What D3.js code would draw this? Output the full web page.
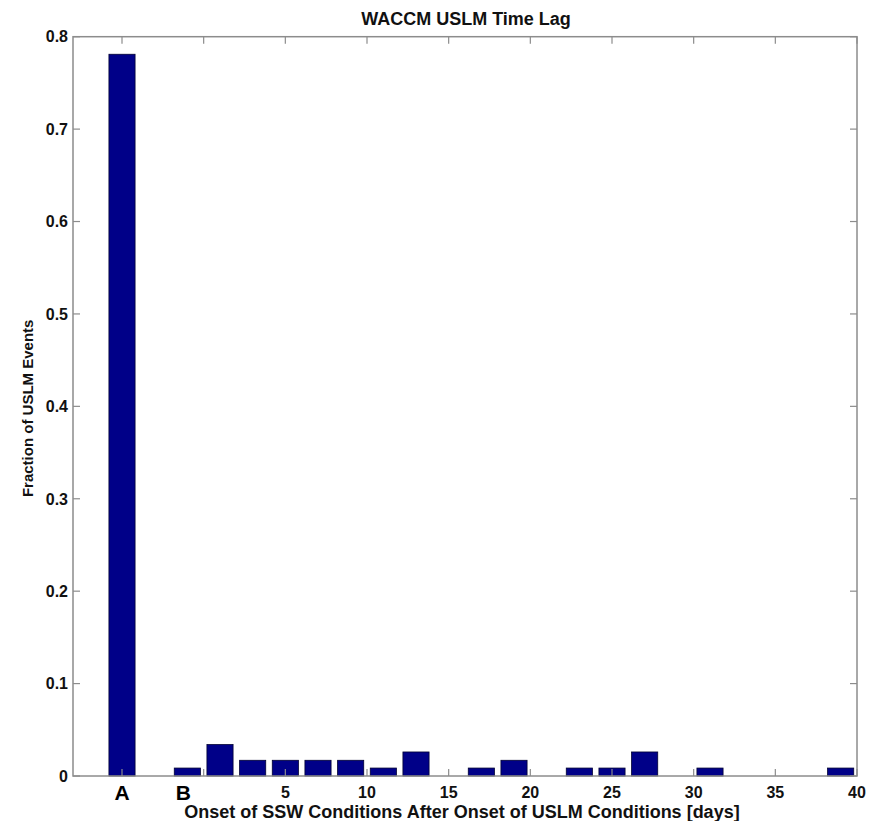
<!DOCTYPE html>
<html><head><meta charset="utf-8">
<script src="https://cdn.jsdelivr.net/npm/d3@7"></script>
<style>body{margin:0;background:#fff}svg{display:block}</style>
</head><body>
<script>
const binCenters = [-5, -1, 1, 3, 5, 7, 9, 11, 13, 17, 19, 23, 25, 27, 31, 39];
const fractions  = [0.781, 0.0086, 0.034, 0.017, 0.017, 0.017, 0.017, 0.0086, 0.026, 0.0086, 0.017, 0.0086, 0.0086, 0.026, 0.0086, 0.0086];
const xTickValues = [-5, 0, 5, 10, 15, 20, 25, 30, 35, 40];
const xTickLabels = ["", "", "5", "10", "15", "20", "25", "30", "35", "40"];
const yTickValues = [0, 0.1, 0.2, 0.3, 0.4, 0.5, 0.6, 0.7, 0.8];
const yTickLabels = ["0", "0.1", "0.2", "0.3", "0.4", "0.5", "0.6", "0.7", "0.8"];
const markerLabels = ["A", "B"];
const markerPositions = [-5, -1.25];
const titleText = "WACCM USLM Time Lag";
const xLabel = "Onset of SSW Conditions After Onset of USLM Conditions [days]";
const yLabel = "Fraction of USLM Events";
const binWidth = 2;

const W = 872, H = 821;
const L = 73, R = 857, T = 36.7, B = 776;
const svg = d3.select("body").append("svg").attr("width", W).attr("height", H);
const x = d3.scaleLinear().domain([-8, 40]).range([L, R]);
const y = d3.scaleLinear().domain([0, 0.8]).range([B, T]);
const font = "'Liberation Sans', Arial, sans-serif";
const gray = "#8c8c8c";

// bars
svg.append("g").selectAll("rect").data(binCenters.map((c, i) => ({c, v: fractions[i]})))
  .join("rect")
  .attr("x", d => x(d.c - 0.4 * binWidth))
  .attr("width", d => x(d.c + 0.4 * binWidth) - x(d.c - 0.4 * binWidth))
  .attr("y", d => y(d.v))
  .attr("height", d => y(0) - y(d.v))
  .attr("fill", "#000088").attr("stroke", "#000033").attr("stroke-width", 0.8);

// axes with inward ticks
const tl = 7;
const ax = svg.append("g").attr("stroke", gray).attr("stroke-width", 1.2);
xTickValues.forEach(v => {
  ax.append("line").attr("x1", x(v)).attr("x2", x(v)).attr("y1", B).attr("y2", B - tl);
  ax.append("line").attr("x1", x(v)).attr("x2", x(v)).attr("y1", T).attr("y2", T + tl);
});
yTickValues.forEach(v => {
  ax.append("line").attr("x1", L).attr("x2", L + tl).attr("y1", y(v)).attr("y2", y(v));
  ax.append("line").attr("x1", R).attr("x2", R - tl).attr("y1", y(v)).attr("y2", y(v));
});
svg.append("rect").attr("x", L).attr("y", T).attr("width", R - L).attr("height", B - T)
  .attr("fill", "none").attr("stroke", gray).attr("stroke-width", 1.5);

// y tick labels
svg.append("g").selectAll("text").data(yTickValues).join("text")
  .attr("x", L - 5).attr("y", d => y(d)).attr("dy", "0.36em")
  .attr("text-anchor", "end").attr("font-family", font).attr("font-weight", "bold")
  .attr("font-size", 16).attr("fill", "#111").text((d, i) => yTickLabels[i]);

// x tick labels
svg.append("g").selectAll("text").data(xTickValues).join("text")
  .attr("x", d => x(d)).attr("y", 798)
  .attr("text-anchor", "middle").attr("font-family", font).attr("font-weight", "bold")
  .attr("font-size", 16).attr("fill", "#111")
  .text((d, i) => xTickLabels[i]);

// A / B markers
svg.append("g").selectAll("text").data(markerPositions).join("text")
  .attr("x", d => x(d)).attr("y", 800)
  .attr("text-anchor", "middle").attr("font-family", font).attr("font-weight", "bold")
  .attr("font-size", 21).attr("fill", "#000")
  .text((d, i) => markerLabels[i]);

// title & labels
svg.append("text").attr("x", 466).attr("y", 25).attr("text-anchor", "middle")
  .attr("font-family", font).attr("font-weight", "bold").attr("font-size", 18).attr("fill", "#111")
  .text(titleText);
svg.append("text").attr("x", 462).attr("y", 818).attr("text-anchor", "middle")
  .attr("font-family", font).attr("font-weight", "bold").attr("font-size", 18).attr("fill", "#111")
  .text(xLabel);
svg.append("text").attr("transform", `translate(33,${(T + B) / 2 + 2}) rotate(-90)`)
  .attr("text-anchor", "middle").attr("font-family", font).attr("font-weight", "bold")
  .attr("font-size", 15).attr("fill", "#111").text(yLabel);
</script>
</body></html>
